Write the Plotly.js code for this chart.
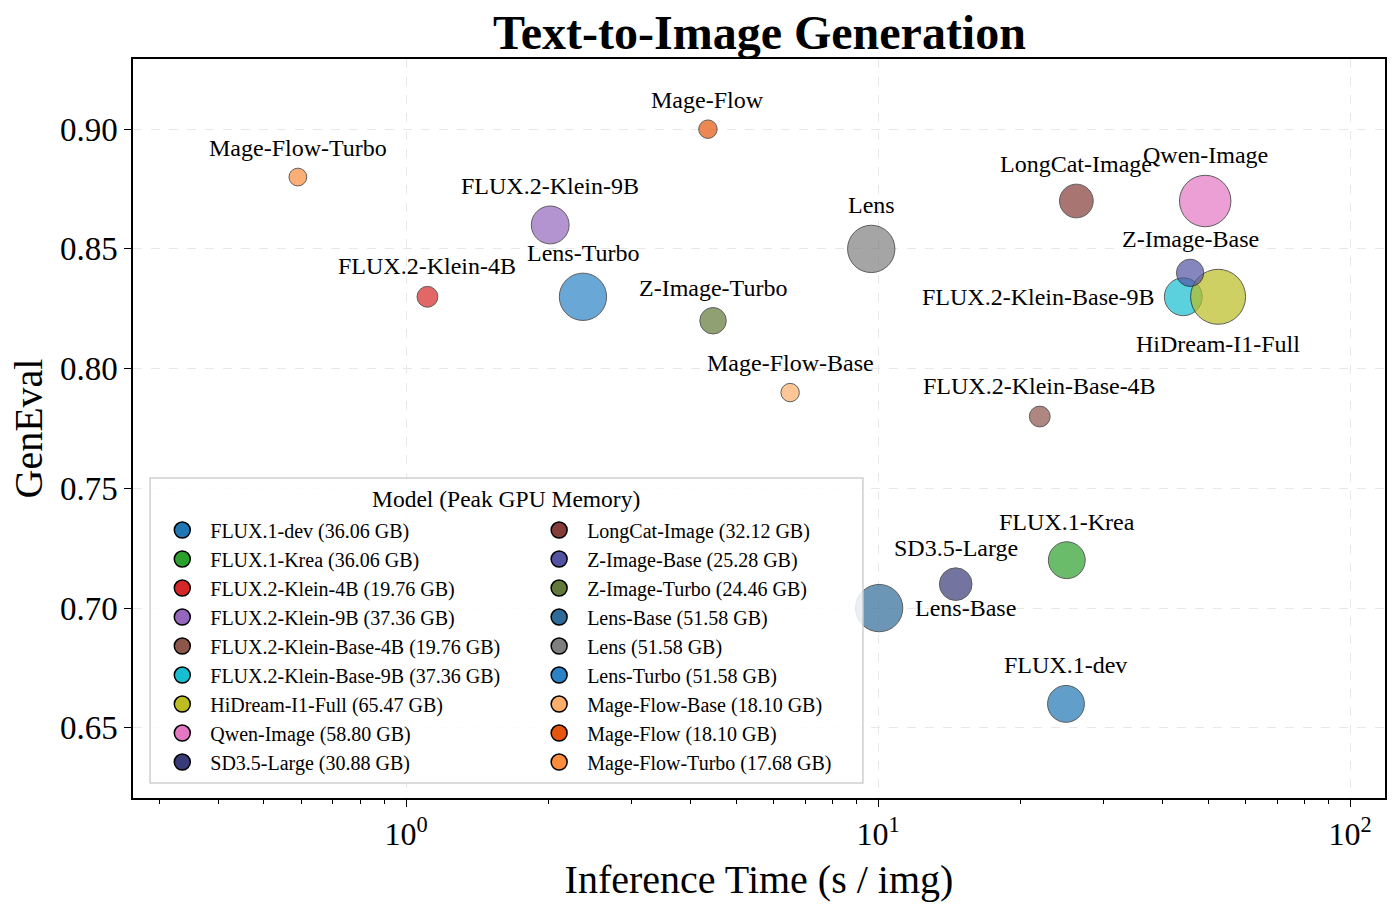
<!DOCTYPE html>
<html>
<head>
<meta charset="utf-8">
<script src="https://cdn.plot.ly/plotly-3.0.1.min.js"></script>
<style>
  html, body { margin: 0; padding: 0; background: #fff; }
  #chart { width: 1400px; height: 911px; }
</style>
</head>
<body>
<div id="chart"></div>
<script>
// Models, in legend order
var models = ['FLUX.1-dev', 'FLUX.1-Krea', 'FLUX.2-Klein-4B', 'FLUX.2-Klein-9B',
    'FLUX.2-Klein-Base-4B', 'FLUX.2-Klein-Base-9B', 'HiDream-I1-Full', 'Qwen-Image',
    'SD3.5-Large', 'LongCat-Image', 'Z-Image-Base', 'Z-Image-Turbo', 'Lens-Base',
    'Lens', 'Lens-Turbo', 'Mage-Flow-Base', 'Mage-Flow', 'Mage-Flow-Turbo'];

// Peak GPU memory (GB)
var memory = [36.06, 36.06, 19.76, 37.36, 19.76, 37.36, 65.47, 58.80, 30.88,
    32.12, 25.28, 24.46, 51.58, 51.58, 51.58, 18.10, 18.10, 17.68];

// Inference time (s / img)
var infer_time = [25.0, 25.1, 1.11, 2.02, 22.0, 44.3, 52.5, 49.3, 14.6,
    26.3, 45.8, 4.47, 10.05, 9.67, 2.37, 6.51, 4.36, 0.59];

// GenEval score
var geneval = [0.66, 0.72, 0.83, 0.86, 0.78, 0.83, 0.83, 0.87, 0.71,
    0.87, 0.84, 0.82, 0.70, 0.85, 0.83, 0.79, 0.90, 0.88];

var x_tickvals = [1, 10, 100];
var x_ticktext = ['10<sup>0</sup>', '10<sup>1</sup>', '10<sup>2</sup>'];
var y_tickvals = [0.65, 0.70, 0.75, 0.80, 0.85, 0.90];

// styling
var colors = ['#1f77b4', '#2ca02c', '#d62728', '#9467bd', '#8c564b', '#17becf',
    '#bcbd22', '#e377c2', '#393b79', '#843c39', '#5254a3', '#637939', '#2f6b98',
    '#7f7f7f', '#2b83c6', '#fdae6b', '#e6550d', '#fd8d3c'];
var label_side = { 'Lens-Base': 'right', 'FLUX.2-Klein-Base-9B': 'left', 'HiDream-I1-Full': 'below' };
var FONT = '"Liberation Serif", "Times New Roman", "DejaVu Serif", serif';

// bubble area grows with memory
function diameter(mem) {
    return Math.sqrt(56.7 * (mem - 12.1));
}

var data = [];
var annotations = [];

for (var i = 0; i < models.length; i++) {
    var d = diameter(memory[i]);
    var leg = i < 9 ? 'legend' : 'legend2';

    // the bubble itself
    data.push({
        x: [infer_time[i]],
        y: [geneval[i]],
        name: models[i],
        type: 'scatter',
        mode: 'markers',
        showlegend: false,
        hoverinfo: 'x+y+name',
        marker: {
            size: d,
            sizemode: 'diameter',
            color: colors[i],
            opacity: 0.7,
            line: { color: '#1a1a1a', width: 1 }
        }
    });

    // opaque legend entry
    data.push({
        x: [null],
        y: [null],
        name: models[i] + ' (' + memory[i].toFixed(2) + ' GB)',
        type: 'scatter',
        mode: 'markers',
        legend: leg,
        legendgroup: 'g' + i,
        hoverinfo: 'skip',
        marker: {
            size: 16,
            color: colors[i],
            line: { color: '#000', width: 1.5 }
        }
    });

    // label next to the bubble
    var side = label_side[models[i]] || 'above';
    var r = d / 2;
    var ann = {
        x: Math.log10(infer_time[i]),
        y: geneval[i],
        xref: 'x',
        yref: 'y',
        text: models[i],
        showarrow: false,
        font: { family: FONT, size: 24, color: '#000' },
        xanchor: 'center',
        yanchor: 'middle'
    };
    if (side == 'above') {
        ann.yshift = r + 20;
    } else if (side == 'below') {
        ann.yshift = -(r + 20);
    } else if (side == 'right') {
        ann.xanchor = 'left';
        ann.xshift = r + 10;
    } else {
        ann.xanchor = 'right';
        ann.xshift = -(r + 7);
    }
    annotations.push(ann);
}

// legend title
annotations.push({
    x: 0.298, y: 0.405, xref: 'paper', yref: 'paper',
    text: 'Model (Peak GPU Memory)', showarrow: false,
    font: { family: FONT, size: 23.5, color: '#000' },
    xanchor: 'center', yanchor: 'middle'
});

var legend_common = {
    font: { family: FONT, size: 20, color: '#000' },
    bgcolor: 'rgba(0,0,0,0)',
    borderwidth: 0,
    itemsizing: 'trace',
    itemwidth: 46,
    traceorder: 'grouped',
    tracegroupgap: 0,
    yanchor: 'top',
    xanchor: 'left',
    y: 0.389
};

var layout = {
    width: 1400,
    height: 911,
    margin: { l: 133, r: 15, t: 59, b: 113, pad: 0 },
    paper_bgcolor: '#fff',
    plot_bgcolor: '#fff',
    font: { family: FONT, color: '#000' },
    title: {
        text: '<b>Text-to-Image Generation</b>',
        font: { family: FONT, size: 48, color: '#000' },
        x: 0.5425, xanchor: 'center',
        y: 0.965, yanchor: 'middle'
    },
    xaxis: {
        type: 'log',
        range: [Math.log10(0.264), Math.log10(118.5)],
        tickvals: x_tickvals,
        ticktext: x_ticktext,
        ticks: 'outside',
        ticklen: 7,
        tickwidth: 1.3,
        tickcolor: '#000',
        tickfont: { family: FONT, size: 32, color: '#000' },
        minor: { ticks: 'outside', ticklen: 4, tickwidth: 1, tickcolor: '#000', dtick: 'D1', showgrid: false },
        showline: true,
        linecolor: '#000',
        linewidth: 1.5,
        mirror: true,
        showgrid: true,
        gridcolor: '#e8e8e8',
        griddash: 'dash',
        gridwidth: 1,
        zeroline: false,
        title: { text: 'Inference Time (s / img)', font: { family: FONT, size: 40, color: '#000' }, standoff: 14 }
    },
    yaxis: {
        range: [0.6207, 0.9293],
        tickvals: y_tickvals,
        tickformat: '.2f',
        ticks: 'outside',
        ticklen: 7,
        tickwidth: 1.3,
        tickcolor: '#000',
        tickfont: { family: FONT, size: 33, color: '#000' },
        showline: true,
        linecolor: '#000',
        linewidth: 1.5,
        mirror: true,
        showgrid: true,
        gridcolor: '#e8e8e8',
        griddash: 'dash',
        gridwidth: 1,
        zeroline: false,
        title: { text: 'GenEval', font: { family: FONT, size: 40, color: '#000' }, standoff: 5 }
    },
    shapes: [{
        type: 'rect',
        xref: 'paper', yref: 'paper',
        x0: 0.0136, x1: 0.583, y0: 0.0203, y1: 0.433,
        line: { color: '#cfcfcf', width: 1.5 },
        fillcolor: 'rgba(255,255,255,0.85)',
        layer: 'above'
    }],
    annotations: annotations,
    legend: Object.assign({}, legend_common, { x: 0.017 }),
    legend2: Object.assign({}, legend_common, { x: 0.318 })
};

Plotly.newPlot('chart', data, layout, { displayModeBar: false, responsive: false });
</script>
</body>
</html>
